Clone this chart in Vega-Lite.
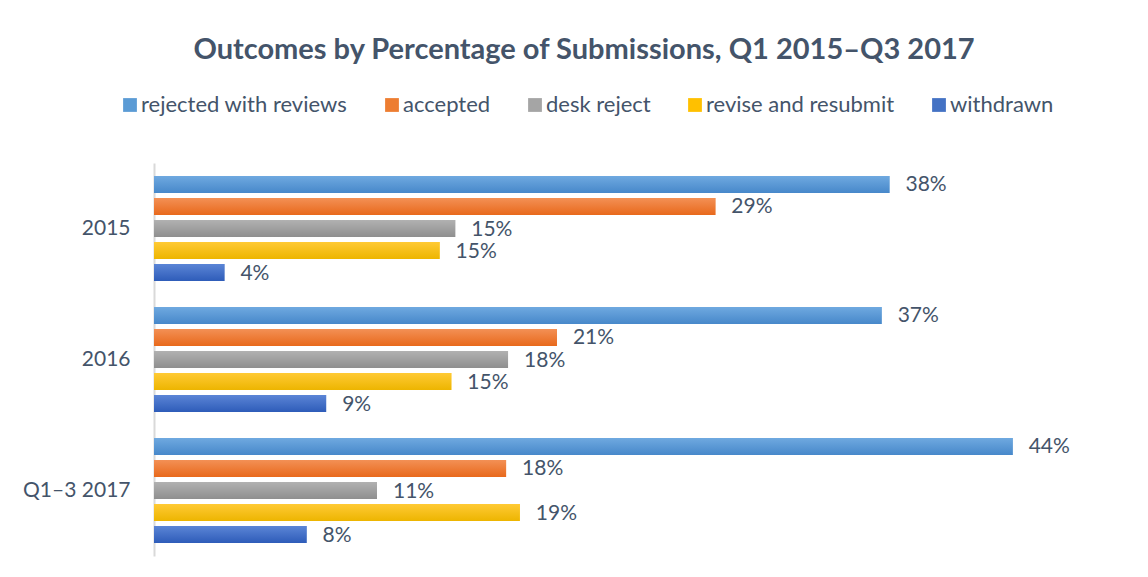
{
  "$schema": "https://vega.github.io/schema/vega-lite/v6.json",
  "width": 978,
  "height": 393,
  "autosize": "none",
  "padding": {"left": 154, "top": 163, "right": 16, "bottom": 21},
  "background": "white",
  "config": {"view": {"stroke": null}, "font": "Lato"},
  "title": {
    "text": "Outcomes by Percentage of Submissions, Q1 2015–Q3 2017",
    "fontSize": 29,
    "fontWeight": "bold",
    "color": "#44546A",
    "anchor": "middle",
    "dx": -59,
    "offset": 29
  },
  "data": {
    "values": [
      {"period": "2015", "outcome": "rejected with reviews", "share": 0.376},
      {"period": "2015", "outcome": "accepted", "share": 0.287},
      {"period": "2015", "outcome": "desk reject", "share": 0.154},
      {"period": "2015", "outcome": "revise and resubmit", "share": 0.146},
      {"period": "2015", "outcome": "withdrawn", "share": 0.036},
      {"period": "2016", "outcome": "rejected with reviews", "share": 0.372},
      {"period": "2016", "outcome": "accepted", "share": 0.206},
      {"period": "2016", "outcome": "desk reject", "share": 0.181},
      {"period": "2016", "outcome": "revise and resubmit", "share": 0.152},
      {"period": "2016", "outcome": "withdrawn", "share": 0.088},
      {"period": "Q1–3 2017", "outcome": "rejected with reviews", "share": 0.439},
      {"period": "Q1–3 2017", "outcome": "accepted", "share": 0.180},
      {"period": "Q1–3 2017", "outcome": "desk reject", "share": 0.114},
      {"period": "Q1–3 2017", "outcome": "revise and resubmit", "share": 0.187},
      {"period": "Q1–3 2017", "outcome": "withdrawn", "share": 0.078}
    ]
  },
  "encoding": {
    "y": {
      "field": "period",
      "type": "nominal",
      "sort": ["2015", "2016", "Q1–3 2017"],
      "scale": {"paddingInner": 0.16, "paddingOuter": 0.08},
      "axis": {
        "title": null,
        "ticks": false,
        "labelPadding": 24,
        "labelFontSize": 21,
        "labelColor": "#44546A",
        "domainColor": "#D9D9D9",
        "domainWidth": 2
      }
    },
    "yOffset": {
      "field": "outcome",
      "sort": ["rejected with reviews", "accepted", "desk reject", "revise and resubmit", "withdrawn"],
      "scale": {"paddingInner": 0.23, "paddingOuter": 0.115}
    },
    "x": {
      "field": "share",
      "type": "quantitative",
      "scale": {"domain": [0, 0.5]},
      "axis": null
    }
  },
  "layer": [
    {
      "mark": {"type": "bar"},
      "encoding": {
        "color": {
          "field": "outcome",
          "type": "nominal",
          "sort": ["rejected with reviews", "accepted", "desk reject", "revise and resubmit", "withdrawn"],
          "scale": {
            "domain": ["rejected with reviews", "accepted", "desk reject", "revise and resubmit", "withdrawn"],
            "range": ["#5B9BD5", "#ED7D31", "#A5A5A5", "#FFC000", "#4472C4"]
          },
          "legend": {
            "orient": "none",
            "legendX": -35,
            "legendY": -69,
            "direction": "horizontal",
            "title": null,
            "symbolType": "square",
            "symbolSize": 190,
            "symbolStrokeWidth": 0,
            "labelFontSize": 22,
            "labelLimit": 0,
            "labelColor": "#44546A",
            "labelOffset": 0,
            "columnPadding": 33
          }
        }
      }
    },
    {
      "transform": [{"filter": {"field": "outcome", "equal": "rejected with reviews"}}],
      "mark": {"type": "bar", "color": {"gradient": "linear", "x1": 0, "y1": 0, "x2": 0, "y2": 1, "stops": [{"offset": 0, "color": "#6FA9E0"}, {"offset": 1, "color": "#4788CA"}]}},
      "encoding": {}
    },
    {
      "transform": [{"filter": {"field": "outcome", "equal": "accepted"}}],
      "mark": {"type": "bar", "color": {"gradient": "linear", "x1": 0, "y1": 0, "x2": 0, "y2": 1, "stops": [{"offset": 0, "color": "#F39055"}, {"offset": 1, "color": "#E8691C"}]}},
      "encoding": {}
    },
    {
      "transform": [{"filter": {"field": "outcome", "equal": "desk reject"}}],
      "mark": {"type": "bar", "color": {"gradient": "linear", "x1": 0, "y1": 0, "x2": 0, "y2": 1, "stops": [{"offset": 0, "color": "#B1B1B1"}, {"offset": 1, "color": "#8F8F8F"}]}},
      "encoding": {}
    },
    {
      "transform": [{"filter": {"field": "outcome", "equal": "revise and resubmit"}}],
      "mark": {"type": "bar", "color": {"gradient": "linear", "x1": 0, "y1": 0, "x2": 0, "y2": 1, "stops": [{"offset": 0, "color": "#FFCA35"}, {"offset": 1, "color": "#EDB500"}]}},
      "encoding": {}
    },
    {
      "transform": [{"filter": {"field": "outcome", "equal": "withdrawn"}}],
      "mark": {"type": "bar", "color": {"gradient": "linear", "x1": 0, "y1": 0, "x2": 0, "y2": 1, "stops": [{"offset": 0, "color": "#5B85D6"}, {"offset": 1, "color": "#2E5CB9"}]}},
      "encoding": {}
    },
    {
      "mark": {"type": "text", "align": "left", "baseline": "middle", "dx": 16, "dy": 1, "fontSize": 21, "color": "#44546A"},
      "encoding": {
        "text": {"field": "share", "type": "quantitative", "format": ".0%"}
      }
    }
  ]
}
